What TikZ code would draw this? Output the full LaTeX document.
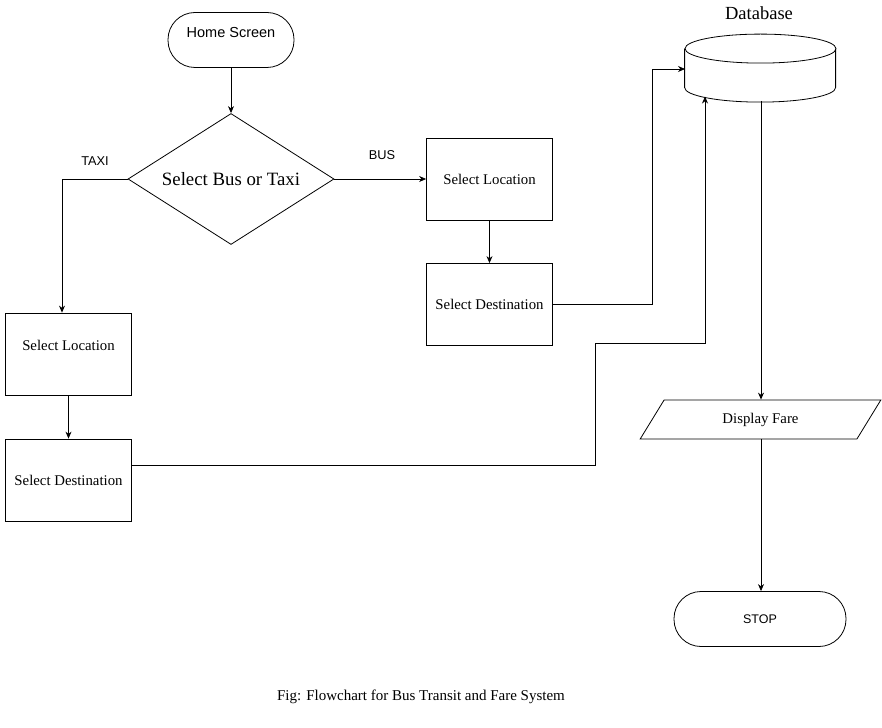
\documentclass[tikz,border=0pt]{standalone}
\usepackage{fontspec}
\setmainfont{Liberation Serif}
\setsansfont{Liberation Sans}
\usetikzlibrary{shapes.geometric,arrows.meta}

\begin{document}
\begin{tikzpicture}[x=1pt,y=-1pt,line width=0.8pt,
  arr/.style={-{Stealth[length=7pt,width=6pt]}},
  terminal/.style={draw,rounded corners=27pt,minimum width=126pt,minimum height=55pt,font=\sffamily\fontsize{14.5}{17}\selectfont},
  procbox/.style={draw,minimum width=126pt,minimum height=82pt,font=\fontsize{14.8}{17}\selectfont},
  choice/.style={draw,diamond,aspect=1.57,inner sep=0pt,minimum width=206pt,minimum height=131pt,font=\fontsize{18.8}{22}\selectfont},
  iobox/.style={draw,trapezium,trapezium left angle=63,trapezium right angle=117,trapezium stretches=true,minimum width=241pt,minimum height=39pt,font=\fontsize{14.8}{17}\selectfont},
  branch/.style={font=\sffamily\fontsize{12.8}{15}\selectfont}]
\useasboundingbox (0,0) rectangle (882,727);

\node[terminal,text depth=15pt] (home) at (231,40) {Home Screen};
\node[choice] (sel) at (231,179) {Select Bus or Taxi};
\node[procbox] (bloc) at (489.5,179) {Select Location};
\node[procbox] (bdest) at (489.5,304.5) {Select Destination};
\node[procbox,text depth=17pt] (tloc) at (68.5,354) {Select Location};
\node[procbox] (tdest) at (68.5,480) {Select Destination};
\node[minimum width=151pt,minimum height=66pt,inner sep=0pt] (db) at (760.5,67.5) {};
\node[font=\fontsize{18.5}{22}\selectfont] (dblabel) at (759,13) {Database};
\node[iobox] (fare) at (760.5,419.5) {Display Fare};
\node[terminal,minimum width=172pt,font=\sffamily\fontsize{12.5}{15}\selectfont] (stop) at (760,619) {STOP};
\node[font=\fontsize{15}{18}\selectfont] (caption) at (421,697) {Fig: Flowchart for Bus Transit and Fare System};

% database drum
\draw (db.north west) ++(0,14.5) coordinate (dbtl)
  (dbtl) -- ++(0,39) arc[start angle=180,end angle=360,x radius=75.5pt,y radius=14.5pt] -- ++(0,-39);
\draw (db.north) ++(0,14.5) ellipse[x radius=75.5pt,y radius=14.5pt];
\coordinate (dbin) at (705,96.5);
\coordinate (dbleft) at (685,69);

\node[branch] (taxi) at (95,161) {TAXI};
\node[branch] (bus) at (382,155) {BUS};

\draw[arr] (home) -- (sel);
\draw[arr] (sel.east) -- (bloc.west);
\draw[arr] (sel.west) -| (tloc.north -| 62,0);
\draw[arr] (bloc) -- (bdest);
\draw[arr] (tloc) -- (tdest);
\draw[arr] (bdest.east) -- (652,304.5) |- (dbleft);
\draw[arr] (tdest.east) ++(0,-15) -- (595,465) |- (705,343) -- (dbin);
\draw[arr] (761,101) -- (fare.north -| 761,0);
\draw[arr] (fare.south -| 761,0) -- (stop.north -| 761,0);
\end{tikzpicture}
\end{document}
